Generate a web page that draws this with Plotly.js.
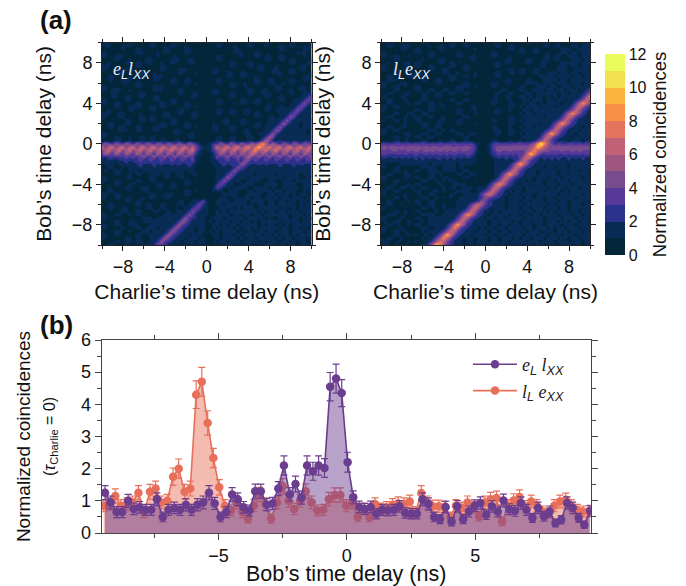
<!DOCTYPE html>
<html><head><meta charset="utf-8">
<script src="https://cdn.plot.ly/plotly-3.0.1.min.js"></script>
<style>html,body{margin:0;padding:0;background:#fff}</style></head>
<body><div id="chart" style="width:686px;height:586px"></div>
<script>
// Coincidence maps: top row first, one character per cell, base-36 code in half units
const rowsEL = [
"1331111133 1111331111 3311111111 1113311111 1133111331 1111331111 3",
"1331113331 1111331131 3311311111 1113311131 1133111311 1331331131 3",
"1111113111 3311111133 1111331111 1111111133 1111111111 1331111133 1",
"3311111111 3331113133 1111331111 1111111133 3111331111 1111113331 1",
"3311333111 1111113111 1311111111 1113311111 3111331331 1331111131 1",
"1111331131 1113311111 3331133111 1113311111 1111111331 1331331111 3",
"1131111331 3313311311 3311133111 1111111331 1133111111 1111331113 3",
"3331111111 3311111331 1111111111 1111111331 1133133111 3111111331 1",
"3311133311 1111111331 1133311111 1133111111 1111133113 3111331331 1",
"1111133111 1331131111 1133111311 1133113311 3311111113 3311331111 3",
"1133111131 1331133311 1111111111 1111113311 3311311111 1311111133 3",
"1133113331 1111133111 3311331111 1113311111 1111331133 1111331133 1",
"1111113311 3311111111 3311331311 1113311331 1311331133 1131331111 1",
"3311111111 3311133311 1111111111 1111111331 1311111111 3311111331 3",
"3313331131 1111133311 1133111111 1133111111 1133113311 3311311331 3",
"1113311111 1331111111 1133113311 1133111331 1133113331 1111331133 3",
"1113311331 1331133111 1111113311 1111111331 1111111331 1331111335 8",
"3311111331 1111133111 3311111111 1113311111 3311331111 1331133358 6",
"3311331111 3311111331 3311331111 1113311131 3311331131 1111133596 3",
"1111331133 3311331331 1111331311 1111111111 1111111331 1331335863 3",
"1131111133 1111331111 1133111111 1113311331 1331111331 3333359633 3",
"3331133111 1311111133 1133113311 1113311331 1331331111 1333586333 3",
"3311133111 1331331133 1111113311 1111111111 1111331133 1335973333 1",
"1111111331 1331331111 3311111111 1111133111 3311111133 3359633333 3",
"1133111331 1111111331 3311331111 1131133111 3311331133 35a7333133 3",
"1133133111 3311133331 1111331311 1133111331 1111331333 5963333133 3",
"1111133311 3311133111 1331111111 1133111331 1331111335 a733333331 3",
"3311111111 1111111111 1331133111 1111111111 133113335a 6333333331 3",
"3311331131 1331331111 1111133111 1113311331 11331136b8 3333333333 3",
"1111331131 1331331331 1331111111 1113311331 1133136c94 3433343334 3",
"6a86a86a86 a86a86a86a 86a86a8531 2366a86a86 a87b9chc7b 86a86a86a8 6",
"e9ce9ce9ce 9ce9ce9ce9 ce9ce9c853 237eacfadf adgbejecgb dfadfacfac f",
"9be9be9be9 be9be9be9b e9be9be742 2369be9be9 beachbcfac f9be9be9be 9",
"7b97b97b97 b97b97b97b 97b97b9532 2247b97b97 b9aeb8b97b 97b97b97b9 7",
"5456566767 6796796796 7967967321 1238679679 68c8796796 7967967967 9",
"3343344545 5755755755 7557557321 1234557557 5a85755755 7557557557 5",
"1333133433 4544454544 5454454211 1134454545 a854454544 4544454544 4",
"1133113133 3433343343 3433343111 1113344359 7534334343 3433343343 3",
"1311331133 3133333333 3333133111 11133335a6 4333343333 3333433333 3",
"1111331131 3311333133 1133113311 1113335963 3333133333 1333333133 3",
"3311111331 1111331133 1133111111 111335a733 3313333133 3313333113 3",
"3311331111 3311331111 1111331311 1113596333 1133331133 1133313333 1",
"1111331133 1111113311 3311331111 1115863311 3333111333 3133331133 3",
"1131111331 1333113311 3311111111 1137533133 3311333313 1133333133 1",
"1133111131 1133111111 1111331311 1133311333 1133133331 3313331131 3",
"3311331111 1111331133 3111331111 1111133331 1133331133 1333131331 3",
"3311331331 1131331133 1111111111 1111331133 1331331333 3133133313 1",
"1111111331 3311111111 1133113347 3113333133 3313333133 1331331331 3",
"1133111111 3313311331 1133133585 3113313333 3313133133 1333331313 3",
"1133113311 1113311331 1311335863 3111333313 1333133333 3133131333 1",
"1111113311 3311133113 1133359643 3113131333 3333313133 1331333133 3",
"3311331131 3311111133 3333597433 3113333133 1331331333 3333133313 1",
"3311111111 1133313333 3335a75433 1133313333 3133333131 1333133133 3",
"1111331133 1133333333 335a853333 1313333133 1331313333 3133333133 1",
"3311331133 3111333333 35a8543333 1133131331 3333313133 1313133333 3",
"3311113111 3313331333 5a85433133 1131333313 1331313333 3133133131 1",
"1111331131 1133133335 a854333133 1313133331 3133133133 1333133313 3",
"3311331111 331133335a 8543313331 1133133313 1333331331 3133131333 1",
"3311111331 33113335a8 5433133313 1113133331 3133133333 1313313331 3",
"1111331331 3311335a75 4331333133 1131331333 1333313133 3133131331 1",
"1133111311 3133359753 3313133313 1113133331 3133131333 1331331333 3"
];
const rowsLE = [
"1133111311 1133111111 3311331111 1113311111 1133111331 1311133133 3",
"1133113331 1111311331 3311331111 1113311331 1111111331 3311133133 3",
"1111113311 3311111331 1111111311 1111111331 3311331111 1133311333 3",
"3311111111 3311331111 1133111111 1133111111 3311331131 1133133133 3",
"3311331131 1111331111 1133113311 1133111311 1111111331 3311333133 1",
"1111331111 1131111331 1111113311 1111113311 1133111331 3311133313 3",
"1131111331 3311111331 3311111111 1113313311 1133113311 1133333133 3",
"3311111331 3311331111 3311331111 1113311111 1111113311 1333133133 3",
"3311331111 1111331133 1111331111 1111111331 3311331111 1333113333 1",
"1111331133 1311111133 1131111311 1113311331 3311331133 3133133133 3",
"1133111133 1133111111 3311331311 1113311111 1111113333 1333313313 3",
"1133311111 1133113311 3311111111 1111113311 1133111333 3133133333 1",
"3311113311 1111113311 1111331111 1133113311 1133331333 1333133313 3",
"3311331311 3311111111 1133331311 1133111111 3311133313 3133313333 4",
"1111331111 3311331133 1133111111 1111133111 3311333133 1331333134 6",
"1133111331 1133113311 3311331111 1113311331 1133133333 3133133346 a",
"3311113311 1133113311 1111111111 1113113311 3313133131 313333336a f",
"1133111311 1133111111 3311331111 1133111311 1331333133 133133469d b",
"1133111131 3311331311 1133111111 1133111331 1313313133 3313347chd 9",
"3311331111 1111331131 1111113311 1111111331 3133331333 133336aeb7 5",
"3311111111 3311331111 1133111311 1113311311 1331333333 333469db75 3",
"1111331133 1133111111 1133111311 1113311111 3133133333 3347chd954 3",
"1133111311 3311331131 1111331111 1111111331 1333333133 336aeb7543 3",
"3311331311 3311111331 1133111111 1133111331 3133333333 469db75333 3",
"1111111311 1133113311 1133111311 1111111331 1333331334 7chd954333 1",
"1133113311 1133113311 1111111111 1133111311 3133133336 aeb7543313 3",
"3311331111 1111331131 3311111111 1113311331 1333333469 db75333133 3",
"3311111331 1133113311 1133113311 1113311331 31333347ci d954331333 3",
"1111331131 3311331111 1111331111 1111111111 1333336aeb 7543313333 3",
"1111331311 1133111311 3311331111 1133111311 3133469db7 5333133313 3",
"6766676676 7676676767 6767667431 1357767677 7768agmgb8 6766776767 6",
"8989989899 9989899899 9898998621 1368999999 999bdjgca9 9a99999a99 8",
"8888988898 9889898989 8988988521 1358988988 88acgdba98 8898898988 8",
"6766676766 7667676767 6766676421 1256767676 78djfa7676 7667676767 6",
"4544545454 5454545545 4545454311 1134545455 7bec854545 4544545454 4",
"3334333433 4343343434 3433434311 1113344346 9db7543434 3433433343 3",
"3311113333 3333133333 3313333111 111333347c id95433334 3433133333 3",
"3311331111 1133331133 3313111111 11133336ae b754333133 1333133333 3",
"1111331311 3311333133 3311331111 11133469db 7533313333 3133333133 1",
"1133111331 1111331311 1133113311 111347chd9 5433313333 3133133333 3",
"3311111331 3311331133 1111331111 11136aeb75 4333133313 3313333313 3",
"3311331111 1133113131 3311111311 11469db753 3313133133 1333133333 1",
"1111311131 3311111311 1333311111 147cgd9543 1331333133 3133313333 3",
"1133113313 1133111131 3311333133 36aeb75433 3133333313 1331333133 3",
"3311331111 3311133131 1133331134 69db753313 3133333133 3313133333 1",
"3311111311 1311331111 3311333347 bec8543133 1333133333 3133333313 3",
"1111331311 1133113131 3113333346 9865431333 3133133133 1333331333 3",
"1133111131 3311331111 113333346a 8543331333 1331333133 3133133333 1",
"1133113111 1311331131 1133347bdb 7543331333 3133333313 1333133313 3",
"3311111111 1133131131 313336aeb7 5433331333 1331333133 3133133333 3",
"1111331311 3311113113 333469db75 3313133333 3133133313 1333133133 1",
"1133311311 1133331133 3347chd954 3133333133 1331331333 3133313313 3",
"3311113111 3311333333 336aeb7543 1331331333 3133333133 3313331333 3",
"1311331131 1131333333 469db75333 3133333313 1331333133 3133133133 1",
"1133131131 3311333334 7cid954333 3133133133 1333133133 3313331333 3",
"3311113111 1133113336 afc7543313 1331331333 3133133313 1331333133 3",
"3311331311 113133346a ec85433133 3133133133 3313331333 1333133313 1",
"1111331131 31131347ci e954331333 1331331333 3133313313 3313331333 3",
"3133113111 1131347bgd 9543133133 3133133313 1331333133 3133133133 3",
"3331131131 311347bfd9 6433133133 3133133133 3313331333 1333133313 3",
"1331311311 11348dkgb7 5433133133 1331331333 3133133133 3133313313 3"
];
const binColors = ["#03263a","#0c2f66","#38339b","#5e3b97","#7c4c8d","#a05680","#c06079","#e27060","#f78b48","#fda93a","#f5d148","#eafb5c"];

// Line cut at Charlie delay 0
const delayEL = [-9.42,-9.2,-8.97,-8.75,-8.52,-8.3,-8.07,-7.85,-7.62,-7.4,-7.17,-6.95,-6.72,-6.5,-6.27,-6.05,-5.82,-5.6,-5.37,-5.15,-4.92,-4.7,-4.47,-4.25,-4.02,-3.8,-3.57,-3.35,-3.12,-2.9,-2.67,-2.45,-2.22,-2,-1.77,-1.55,-1.32,-1.1,-.87,-.65,-.42,-.2,.03,.25,.48,.7,.93,1.15,1.38,1.6,1.83,2.05,2.28,2.5,2.73,2.95,3.18,3.4,3.63,3.85,4.08,4.3,4.53,4.75,4.98,5.2,5.43,5.65,5.88,6.1,6.33,6.55,6.78,7,7.23,7.45,7.68,7.9,8.13,8.35,8.58,8.8,9.03,9.25,9.48];
const countsEL = [1.25,.95,.65,.65,1,.75,.8,.72,.72,1.05,.5,.72,.78,.72,.88,.72,.88,.95,1.25,.92,.5,.65,1.2,1.05,.8,.7,1.3,1.3,.88,.92,1.38,2.1,1.2,1.52,1.1,2.1,1.92,2.1,2.02,4.55,4.8,4.35,2.2,1.11,.81,.75,.81,.6,.72,.7,.72,.83,.62,.6,.6,1.05,.9,.5,.43,.81,.35,.83,.43,.67,.85,.93,.57,.83,.67,1.01,.74,.69,.93,.72,.47,.78,.52,.67,.31,.41,.93,.78,.47,.26,.69];
const errEL = [.22,.2,.17,.17,.2,.18,.18,.17,.17,.2,.15,.17,.18,.17,.19,.17,.19,.2,.22,.19,.15,.17,.21,.2,.18,.17,.22,.22,.19,.19,.22,.3,.21,.25,.2,.3,.28,.3,.29,.44,.45,.42,.31,.2,.18,.17,.18,.16,.17,.17,.17,.18,.16,.16,.16,.2,.19,.15,.14,.18,.13,.18,.14,.17,.18,.19,.15,.18,.17,.2,.17,.17,.19,.17,.14,.18,.15,.17,.12,.13,.19,.18,.14,.11,.17];
const delayLE = [-9.47,-9.25,-9.02,-8.8,-8.57,-8.35,-8.12,-7.9,-7.67,-7.45,-7.22,-7,-6.77,-6.55,-6.32,-6.1,-5.87,-5.65,-5.42,-5.2,-4.97,-4.75,-4.52,-4.3,-4.07,-3.85,-3.62,-3.4,-3.17,-2.95,-2.72,-2.5,-2.27,-2.05,-1.82,-1.6,-1.37,-1.15,-.92,-.7,-.47,-.25,-.02,.2,.43,.65,.88,1.1,1.33,1.55,1.78,2,2.23,2.45,2.68,2.9,3.13,3.35,3.58,3.8,4.03,4.25,4.48,4.7,4.93,5.15,5.38,5.6,5.83,6.05,6.28,6.5,6.73,6.95,7.18,7.4,7.63,7.85,8.08,8.3,8.53,8.75,8.98,9.2,9.43];
const countsLE = [.85,.9,1.15,.85,.9,.95,1.25,.65,1.28,1.38,.95,1,1.75,2,1.28,1.38,4.3,4.7,3.42,2.33,1.42,.85,.7,.95,.65,.45,.85,1.2,.9,.45,.95,1.45,1,.75,1,1.3,.95,.7,.72,1.05,1.18,1.18,.85,.95,.5,.75,.5,.9,.75,.8,.88,.92,.9,.98,.65,1.24,.95,.83,.83,.8,.5,.85,.78,.95,.8,.52,.95,1.05,1.09,.36,.85,1.01,1.12,.82,.98,.85,.67,.62,.85,.98,1.03,.85,.72,.67,.67];
const errLE = [.19,.19,.22,.19,.19,.2,.22,.17,.23,.23,.2,.2,.27,.3,.23,.23,.43,.45,.38,.3,.24,.19,.17,.2,.17,.14,.19,.22,.19,.14,.2,.24,.2,.18,.2,.23,.2,.17,.17,.21,.22,.22,.19,.2,.15,.18,.15,.19,.18,.18,.19,.2,.19,.2,.17,.23,.2,.19,.19,.18,.15,.19,.18,.2,.18,.15,.2,.21,.21,.13,.19,.21,.22,.19,.2,.19,.17,.16,.19,.2,.21,.19,.17,.17,.17];

const W = 686, H = 586;
const fx = p => p / W, fy = p => 1 - p / H;
const decode = rows => rows.slice().reverse().map(r => Array.from(r.replace(/ /g,'').padEnd(61,'1').slice(0,61)).map(c => parseInt(c,36)/2));
const scale = [[0,binColors[0]]].concat(binColors.map((c,k)=>[(k+1)/13,c]),[[1,binColors[11]]]);

function mapTrace(rows, xa, ya, bar){
  return {type:'contour', z:decode(rows), x0:-10, dx:1/3, y0:-10, dy:1/3, xaxis:xa, yaxis:ya,
    autocontour:false, contours:{start:0,end:12,size:1,coloring:'fill',showlines:false},
    line:{width:0,smoothing:1}, colorscale:scale, zmin:0, zmax:12, showscale:bar,
    hoverinfo:'skip',
    colorbar: bar ? {x:fx(605),xanchor:'left',xpad:0,y:fy(54),yanchor:'top',ypad:0,
      lenmode:'pixels',len:201,thicknessmode:'pixels',thickness:20,outlinewidth:0,
      tickvals:[0,2,4,6,8,10,12],ticks:'',tickfont:{size:16,color:'#111'},
      title:{text:'Normalized coincidences',side:'right',font:{size:18.5,color:'#111'}}} : undefined};
}
const purple = '#6a3d8f', orange = '#e8705a';
function cut(x,y,e,col,name){
  return {type:'scatter',mode:'lines+markers',x:x,y:y,name:name,xaxis:'x3',yaxis:'y3',
    line:{color:col,width:1.6},marker:{color:col,size:8.5},
    error_y:{type:'data',array:e,visible:true,color:col,thickness:1.2,width:3.5}};
}
function fillT(x,y,col){
  return {type:'scatter',mode:'lines',x:x,y:y,xaxis:'x3',yaxis:'y3',line:{width:0},fill:'tozeroy',fillcolor:col,showlegend:false,hoverinfo:'skip'};
}
const sub = s => '<sub><span style="font-family:Liberation Sans">'+s+'</span></sub>';
const labEL = '<i>e'+sub('L')+' l'+sub('XX')+'</i>';
const labLE = '<i>l'+sub('L')+' e'+sub('XX')+'</i>';
const tagEL = '<i>e'+sub('L')+'l'+sub('XX')+'</i>';
const tagLE = '<i>l'+sub('L')+'e'+sub('XX')+'</i>';
const traces = [
  mapTrace(rowsEL,'x','y',true),
  mapTrace(rowsLE,'x2','y2',false),
  fillT(delayLE,countsLE,'rgba(232,112,90,0.48)'),
  cut(delayLE,countsLE,errLE,orange,labLE),
  fillT(delayEL,countsEL,'rgba(106,61,143,0.48)'),
  cut(delayEL,countsEL,errEL,purple,labEL)
];
const mapAxis = (dom,title,anchor,so) => ({domain:dom,anchor:anchor,range:[-10,10],tickvals:[-8,-4,0,4,8],ticks:'outside',ticklen:5,tickwidth:1,
  tickcolor:'#222',showline:true,linecolor:'#222',linewidth:1,mirror:'ticks',showgrid:false,zeroline:false,
  minor:{tickvals:[-10,-6,-2,2,6,10],ticks:'outside',ticklen:3,tickwidth:1,tickcolor:'#222',showgrid:false},
  tickfont:{size:18,color:'#111'},title:{text:title,font:{size:21,color:'#111'},standoff:so}});
const layout = {
  width:W,height:H,margin:{l:0,r:0,t:0,b:0},paper_bgcolor:'#fff',plot_bgcolor:'#fff',
  font:{family:'Liberation Sans, Arial, sans-serif',color:'#111'},
  xaxis:mapAxis([fx(102),fx(311.5)],'Charlie’s time delay (ns)','y',8),
  yaxis:mapAxis([fy(245),fy(42.7)],'Bob’s time delay (ns)','x',14),
  xaxis2:mapAxis([fx(381),fx(590)],'Charlie’s time delay (ns)','y2',8),
  yaxis2:mapAxis([fy(245),fy(42.7)],'Bob’s time delay (ns)','x2',14),
  xaxis3:{domain:[fx(101.7),fx(590.7)],anchor:'y3',range:[-9.55,9.5],tickvals:[-5,0,5],ticks:'outside',ticklen:6,tickwidth:1,tickcolor:'#444',
    showline:true,linecolor:'#444',linewidth:1.2,mirror:'ticks',showgrid:false,zeroline:false,
    minor:{tickvals:[-7.5,-2.5,2.5,7.5],ticks:'outside',ticklen:4,tickwidth:1,tickcolor:'#444',showgrid:false},
    tickfont:{size:18,color:'#111'},title:{text:'Bob’s time delay (ns)',font:{size:21.5,color:'#111'},standoff:0}},
  yaxis3:{domain:[fy(533),fy(340)],anchor:'x3',range:[0,6],tickvals:[0,1,2,3,4,5,6],ticks:'outside',ticklen:6,tickwidth:1,tickcolor:'#444',
    showline:true,linecolor:'#444',linewidth:1.2,mirror:'ticks',showgrid:false,zeroline:false,
    minor:{tickvals:[.5,1.5,2.5,3.5,4.5,5.5],ticks:'outside',ticklen:4,tickwidth:1,tickcolor:'#444',showgrid:false},
    tickfont:{size:18,color:'#111'},
    title:{text:'Normalized coincidences<br><span style="font-size:16px">(<i>τ</i><sub>Charlie</sub> = 0)</span>',font:{size:19,color:'#111'},standoff:20}},
  showlegend:true,
  legend:{x:fx(468),y:fy(346),xanchor:'left',yanchor:'top',bgcolor:'rgba(0,0,0,0)',itemwidth:44,traceorder:'reversed',
    font:{family:'Liberation Serif',size:18,color:'#222'}},
  annotations:[
    {text:'<b>(a)</b>',xref:'paper',yref:'paper',x:fx(38),y:fy(20),xanchor:'left',yanchor:'middle',showarrow:false,font:{size:26,color:'#111'}},
    {text:'<b>(b)</b>',xref:'paper',yref:'paper',x:fx(38),y:fy(325),xanchor:'left',yanchor:'middle',showarrow:false,font:{size:26,color:'#111'}},
    {text:tagEL,xref:'paper',yref:'paper',x:fx(111),y:fy(70),xanchor:'left',yanchor:'middle',showarrow:false,font:{family:'Liberation Serif',size:18,color:'#eef'}},
    {text:tagLE,xref:'paper',yref:'paper',x:fx(391),y:fy(70),xanchor:'left',yanchor:'middle',showarrow:false,font:{family:'Liberation Serif',size:18,color:'#eef'}}
  ]
};
Plotly.newPlot('chart',traces,layout,{staticPlot:true,displayModeBar:false});
</script></body></html>
